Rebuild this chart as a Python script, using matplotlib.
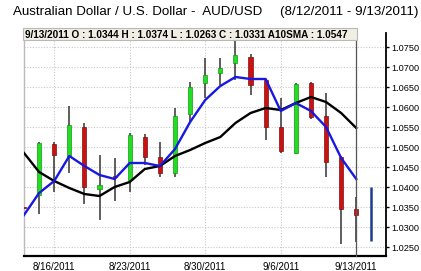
import matplotlib
matplotlib.use("Agg")
import matplotlib.pyplot as plt
import matplotlib.patches as patches

plt.rcParams['font.family'] = ['Liberation Sans', 'DejaVu Sans']

# trading days, 8/12 sits on the left edge of the chart
dates = ["8/12/2011", "8/15/2011", "8/16/2011", "8/17/2011", "8/18/2011", "8/19/2011",
         "8/22/2011", "8/23/2011", "8/24/2011", "8/25/2011", "8/26/2011",
         "8/29/2011", "8/30/2011", "8/31/2011", "9/1/2011", "9/2/2011",
         "9/5/2011", "9/6/2011", "9/7/2011", "9/8/2011", "9/9/2011",
         "9/12/2011", "9/13/2011"]

opens = [1.0350, 1.0380, 1.0508, 1.0474, 1.0550, 1.0395, 1.0428, 1.0418, 1.0525, 1.0475, 1.0435,
         1.0583, 1.0660, 1.0685, 1.0710, 1.0725, 1.0668, 1.0550, 1.0485, 1.0660, 1.0578,
         1.0475, 1.0344]
highs = [1.0362, 1.0512, 1.0512, 1.0603, 1.0560, 1.0480, 1.0473, 1.0535, 1.0533, 1.0513, 1.0598,
         1.0663, 1.0723, 1.0723, 1.0768, 1.0733, 1.0670, 1.0623, 1.0660, 1.0663, 1.0635,
         1.0478, 1.0374]
lows = [1.0249, 1.0333, 1.0388, 1.0435, 1.0358, 1.0318, 1.0365, 1.0388, 1.0455, 1.0425, 1.0425,
        1.0563, 1.0623, 1.0655, 1.0668, 1.0630, 1.0518, 1.0485, 1.0483, 1.0570, 1.0425,
        1.0258, 1.0263]
closes = [1.0348, 1.0510, 1.0480, 1.0555, 1.0400, 1.0405, 1.0424, 1.0530, 1.0475, 1.0435, 1.0578,
          1.0650, 1.0680, 1.0698, 1.0730, 1.0655, 1.0550, 1.0490, 1.0658, 1.0575, 1.0463,
          1.0345, 1.0331]

sma10 = [1.0485, 1.04375, 1.0415, 1.03975, 1.03825, 1.03775, 1.0400, 1.04125, 1.0445, 1.04525, 1.04775,
         1.04925, 1.0510, 1.0525, 1.0560, 1.0585, 1.05975, 1.05925, 1.0610, 1.0625, 1.06125,
         1.0585, 1.05475]
fast_ma = [1.0330, 1.0385, 1.0415, 1.04775, 1.04525, 1.0430, 1.0420, 1.0460, 1.0460, 1.04525, 1.0495,
           1.05625, 1.06175, 1.06525, 1.0675, 1.0670, 1.0670, 1.0590, 1.0610, 1.0590, 1.0550,
           1.04725, 1.0420]

# range bar drawn one day after the last candle
next_range = [1.0265, 1.0400]

tick_dates = ["8/16/2011", "8/23/2011", "8/30/2011", "9/6/2011", "9/13/2011"]
price_ticks = [1.0250, 1.0300, 1.0350, 1.0400, 1.0450, 1.0500, 1.0550, 1.0600, 1.0650, 1.0700, 1.0750]

title_left = "Australian Dollar / U.S. Dollar -  AUD/USD"
title_right = "(8/12/2011 - 9/13/2011)"
info_text = "9/13/2011 O : 1.0344 H : 1.0374 L : 1.0263 C : 1.0331 A10SMA : 1.0547"

W, H = 421, 271
fig = plt.figure(figsize=(W / 100, H / 100), dpi=100)
ax = fig.add_axes([24 / W, (H - 256) / H, (386 - 24) / W, (256 - 33) / H])

xs = list(range(len(dates)))

# grid
for p in price_ticks:
    ax.axhline(p, color="#c8c8c8", lw=0.8, ls=(0, (1, 1.5)), zorder=0)
for d in tick_dates:
    ax.axvline(dates.index(d), color="#c8c8c8", lw=0.8, ls=(0, (1, 1.5)), zorder=0)

# candles
ax.vlines(xs, lows, highs, color="#333333", lw=1.1, zorder=2)
for x, o, c in zip(xs, opens, closes):
    up = c >= o
    face = "#22dd22" if up else "#cc1111"
    edge = "#119911" if up else "#7a1010"
    ax.bar(x, max(abs(c - o), 0.0003), bottom=min(o, c), width=0.27,
           color=face, edgecolor=edge, linewidth=0.5, zorder=3)

ax.vlines(len(dates), next_range[0], next_range[1], color="#1c3c8c", lw=1.8, zorder=3)

# moving averages
ax.plot(xs, sma10, color="black", lw=1.7, zorder=4)
ax.plot(xs, fast_ma, color="#1818e0", lw=1.7, zorder=5)

# crosshair on last day
ax.axvline(len(dates) - 1, color="#555555", lw=0.9, zorder=6, clip_on=False)

ax.set_xlim(0, 23.97)
ax.set_ylim(1.02275, 1.0785)

ax.yaxis.tick_right()
ax.set_yticks(price_ticks)
ax.set_yticklabels([f"{p:.4f}" for p in price_ticks], fontsize=6.6)
ax.set_xticks([dates.index(d) for d in tick_dates])
ax.set_xticklabels(tick_dates, fontsize=7)
ax.tick_params(axis="y", length=2.5, width=1, pad=1.5, colors="black")
ax.tick_params(axis="x", length=0, pad=4)

ax.spines["top"].set_visible(False)
ax.spines["left"].set_color("#bbbbbb")
ax.spines["left"].set_linewidth(1)
ax.spines["right"].set_linewidth(1.3)
ax.spines["bottom"].set_linewidth(1.6)

# info box over the top of the plot
box = patches.Rectangle((23 / W, (H - 40) / H), (357 - 23) / W, 12 / H,
                        transform=fig.transFigure, facecolor="#f1eee4",
                        edgecolor="#b8b8b8", linewidth=0.8, zorder=10)
fig.patches.append(box)
fig.text(25 / W, (H - 34.5) / H, info_text, fontsize=7.2, fontweight="bold",
         va="center", ha="left", zorder=11)

fig.text(13 / W, (H - 12) / H, title_left, fontsize=9.6, va="center", ha="left")
fig.text(418 / W, (H - 12) / H, title_right, fontsize=9.6, va="center", ha="right")

fig.savefig("out.png", dpi=100)
